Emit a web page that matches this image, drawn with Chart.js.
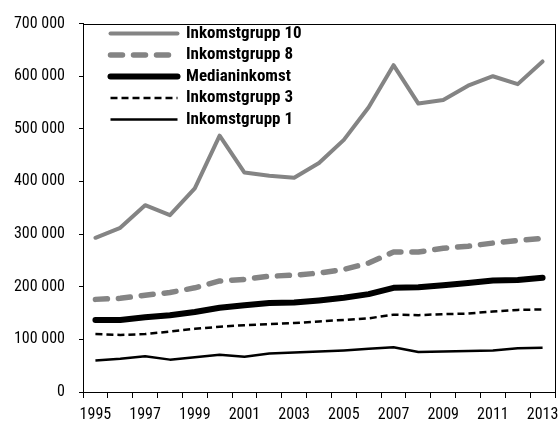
<!DOCTYPE html>
<html>
<head>
<meta charset="utf-8">
<script src="https://cdn.jsdelivr.net/npm/chart.js@4/dist/chart.umd.min.js"></script>
<style>
  html, body { margin: 0; padding: 0; background: #fff; }
  #wrap { width: 558px; height: 423px; }
</style>
</head>
<body>
<div id="wrap"><canvas id="chart"></canvas></div>
<script>
const years = ['1995', '1996', '1997', '1998', '1999', '2000', '2001', '2002', '2003', '2004',
  '2005', '2006', '2007', '2008', '2009', '2010', '2011', '2012', '2013'];

const grupp10 = [293000, 312000, 355000, 336000, 387000, 487000, 417000, 411000, 407000, 435000,
  479000, 541000, 621000, 548000, 555000, 582000, 600000, 585000, 628000];
const grupp8 = [176000, 178000, 184000, 189000, 198000, 211000, 214000, 220000, 222000, 226000,
  233000, 245000, 266000, 266000, 273000, 277000, 283000, 288000, 292000];
const median = [137000, 137000, 142000, 146000, 152000, 160000, 165000, 169000, 170000, 174000,
  179000, 186000, 198000, 199000, 203000, 207000, 212000, 213000, 217000];
const grupp3 = [110000, 108500, 110000, 115000, 120000, 124000, 127000, 129000, 131000, 134000,
  137000, 140000, 147000, 146000, 148000, 149000, 153000, 156000, 157000];
const grupp1 = [60000, 63000, 68000, 61500, 66000, 71000, 67000, 73000, 75000, 77000,
  79000, 82000, 85000, 76000, 77000, 78000, 79000, 83000, 84000];

const yTicks = [0, 100000, 200000, 300000, 400000, 500000, 600000, 700000];

const FONT = '"Roboto Condensed", "Open Sans Condensed", sans-serif';
const gray = '#848484';

// frame round the plot area + put the legend inside it
const framePlugin = {
  id: 'frame',
  afterLayout(chart) {
    const a = chart.chartArea;
    chart.legend.left = a.left + 23;
    chart.legend.top = a.top - 3;
  },
  beforeDatasetsDraw(chart) {
    const a = chart.chartArea;
    const ctx = chart.ctx;
    ctx.save();
    ctx.strokeStyle = '#000';
    ctx.lineWidth = 1;
    ctx.strokeRect(Math.round(a.left) + 0.5, Math.round(a.top) + 0.5,
      Math.round(a.right - a.left), Math.round(a.bottom - a.top));
    ctx.restore();
  }
};

new Chart(document.getElementById('chart'), {
  type: 'line',
  data: {
    labels: years,
    datasets: [
      {
        label: 'Inkomstgrupp 10',
        data: grupp10,
        borderColor: gray,
        borderWidth: 4,
        borderCapStyle: 'round',
        borderJoinStyle: 'round'
      },
      {
        label: 'Inkomstgrupp 8',
        data: grupp8,
        borderColor: gray,
        borderWidth: 5.5,
        borderDash: [12, 11],
        borderCapStyle: 'round',
        borderJoinStyle: 'round'
      },
      {
        label: 'Medianinkomst',
        data: median,
        borderColor: '#000',
        borderWidth: 6,
        borderCapStyle: 'round',
        borderJoinStyle: 'round'
      },
      {
        label: 'Inkomstgrupp 3',
        data: grupp3,
        borderColor: '#000',
        borderWidth: 2.5,
        borderDash: [7, 4],
        borderJoinStyle: 'round'
      },
      {
        label: 'Inkomstgrupp 1',
        data: grupp1,
        borderColor: '#000',
        borderWidth: 2.5,
        borderJoinStyle: 'round'
      }
    ]
  },
  options: {
    responsive: true,
    maintainAspectRatio: false,
    animation: false,
    elements: { point: { radius: 0 }, line: { tension: 0 } },
    layout: { padding: { top: 20, right: 3, left: 0, bottom: 0 } },
    plugins: {
      legend: {
        position: 'chartArea',
        align: 'start',
        labels: {
          usePointStyle: true,
          pointStyle: 'line',
          pointStyleWidth: 67,
          boxHeight: 17,
          padding: 4.5,
          color: '#000',
          font: { family: FONT, size: 17, weight: 'bold' },
          generateLabels(chart) {
            const items = Chart.defaults.plugins.legend.labels.generateLabels(chart);
            return items.map(item => {
              const ds = chart.data.datasets[item.datasetIndex];
              item.lineDash = ds.borderDash || [];
              item.lineCap = ds.borderCapStyle || 'butt';
              item.lineWidth = ds.borderWidth;
              item.strokeStyle = ds.borderColor;
              return item;
            });
          }
        }
      },
      tooltip: { enabled: false }
    },
    scales: {
      x: {
        offset: true,
        grid: { offset: true, drawOnChartArea: false, tickLength: 6, tickColor: '#000' },
        border: { color: '#000', width: 1 },
        ticks: {
          autoSkip: false,
          maxRotation: 0,
          padding: 7,
          color: '#000',
          font: { family: FONT, size: 16 },
          callback: (v, i) => (i % 2 === 0 ? years[i] : '')
        },
        afterFit: s => { s.height = 31; s.paddingLeft = 0; s.paddingRight = 0; }
      },
      y: {
        min: yTicks[0],
        max: yTicks[yTicks.length - 1],
        afterBuildTicks: s => { s.ticks = yTicks.map(v => ({ value: v })); },
        grid: { drawOnChartArea: false, tickLength: 4, tickColor: '#000' },
        border: { color: '#000', width: 1 },
        ticks: {
          padding: 14,
          color: '#000',
          font: { family: FONT, size: 16 },
          callback: v => String(v).replace(/\B(?=(\d{3})+(?!\d))/g, ' ')
        },
        afterFit: s => { s.width = 83; }
      }
    }
  },
  plugins: [framePlugin]
});
</script>
</body>
</html>
